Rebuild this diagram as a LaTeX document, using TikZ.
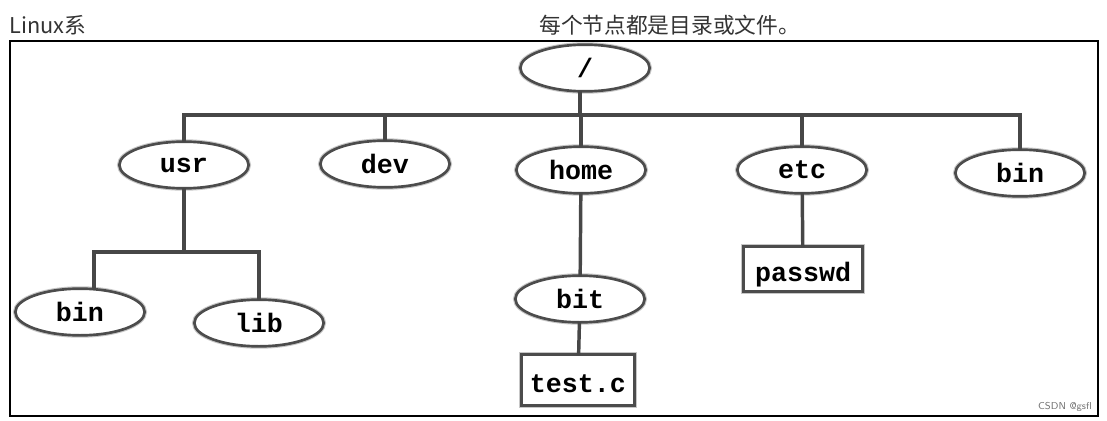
\documentclass[tikz,border=0pt]{standalone}
\usepackage{fontspec}
\usepackage{tikz}
\usetikzlibrary{arrows,shapes.geometric,positioning}
\newfontfamily\cjkfont{Noto Sans CJK SC}
\newfontfamily\labelfont{Liberation Mono}
\tikzset{
    %Define style for directories
    dirnode/.style={
           ellipse,
           draw=black!70,
           line width=2pt,
           preaction={draw=black!22, line width=3.6pt},
           fill=white,
           minimum width=97pt,
           minimum height=35pt,
           inner sep=0pt,
           font=\labelfont\bfseries\fontsize{20}{20}\selectfont,
           text centered},
    %Define style for files
    filenode/.style={
           rectangle,
           draw=black!70,
           line width=2pt,
           preaction={draw=black!22, line width=3.6pt},
           fill=white,
           minimum width=86pt,
           minimum height=36pt,
           inner sep=0pt,
           text height=19pt,
           text depth=0pt,
           font=\labelfont\bfseries\fontsize{20}{20}\selectfont,
           text centered},
    % Define branch style
    branch/.style={
           draw=black!72,
           line width=2.6pt,
           line cap=rect},
    caption/.style={
           font=\cjkfont\fontsize{16.3}{17}\selectfont,
           text=black!80,
           inner sep=0pt}
}

\begin{document}
\begin{tikzpicture}[x=0.75pt,y=-0.75pt]
\useasboundingbox (0,0) rectangle (1107,421);
\draw[line width=1pt] (10,41) rectangle (1098,416);
 %titles
\node[caption, anchor=west] (sys) at (9,25) {Linux系};
\node[caption, anchor=west] (note) at (539,25) {每个节点都是目录或文件。};
 %nodes
\coordinate (hub) at (580,115);
\coordinate (ubar) at (184,252);
\node[dirnode] (root) at (585,68) {/};
\node[dirnode] (usr) at (184,165) {usr};
\node[dirnode] (dev) at (385,164) {dev};
\node[dirnode] (home) at (581,170) {home};
\node[dirnode] (etc) at (802,170) {etc};
\node[dirnode] (bin) at (1020,173) {bin};
\node[dirnode] (usrbin) at (80,312) {bin};
\node[dirnode] (lib) at (259,323) {lib};
\node[dirnode] (bit) at (580,299) {bit};
\node[filenode, minimum width=85pt, minimum height=38pt] (testc) at (578,380) {test.c};
\node[filenode, minimum width=89pt, minimum height=34pt] (passwd) at (803,269) {passwd};
 %branches
\draw[branch] (root.south -| hub) -- (hub);
\draw[branch] (usr.north) |- (hub) -| (bin.north);
\path[branch]
   (dev.north) edge (dev.north |- hub)
   (home) edge (home |- hub)
   (etc.north) edge (etc.north |- hub)
   (usr) edge (ubar)
   (home) edge (bit)
   (bit) edge (testc)
   (etc) edge (passwd);
\draw[branch] (usrbin.60) |- (ubar) -| (lib.north);
\node[font=\sffamily\fontsize{7.5}{8}\selectfont, text=black!55, anchor=east, inner sep=0pt] (mark) at (1092,407) {CSDN @gsfl};
\end{tikzpicture}
\end{document}
